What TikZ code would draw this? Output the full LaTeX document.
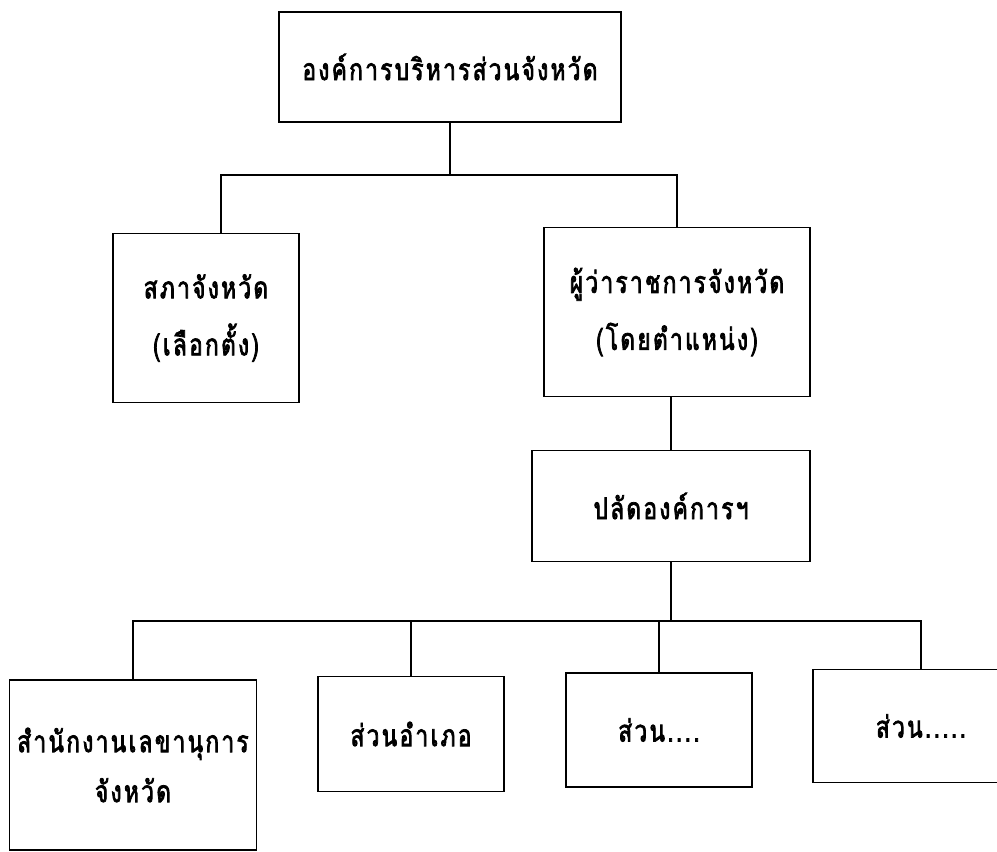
\documentclass[tikz,border=0pt]{standalone}
\usepackage{fontspec}
\newfontfamily\thaifont[Script=Thai,LetterSpace=8,FakeStretch=0.75,FakeBold=2.5]{Loma}
\usepackage{tikz}

\begin{document}
\begin{tikzpicture}[x=1pt,y=-1pt,line width=1.6pt,
	unit/.style={draw,rectangle,inner sep=0pt,align=center,
		font=\thaifont\fontsize{30}{57}\selectfont}]
				\useasboundingbox (0,0) rectangle (997,852);
				\node[unit,minimum width=342,minimum height=110] (pao) at (450,67) {องค์การบริหารส่วนจังหวัด};
				\node[unit,minimum width=186,minimum height=169] (council) at (206,318) {สภาจังหวัด\\(เลือกตั้ง)};
				\node[unit,minimum width=266,minimum height=169] (governor) at (677,312) {ผู้ว่าราชการจังหวัด\\(โดยตำแหน่ง)};
				\node[unit,minimum width=278,minimum height=111] (deputy) at (671,506) {ปลัดองค์การฯ};
				\node[unit,minimum width=247,minimum height=170] (office) at (133,765) {สำนักงานเลขานุการ\\[-7pt]จังหวัด};
				\node[unit,minimum width=186,minimum height=115] (district) at (411,734) {ส่วนอำเภอ};
				\node[unit,minimum width=186,minimum height=114] (divone) at (659,730) {ส่วน....};
				\node[unit,minimum width=216,minimum height=113] (divtwo) at (921,726) {ส่วน.....};
				\coordinate (upbus) at (pao.south |- 0,175);
				\coordinate (lowbus) at (deputy.south |- 0,621);
				\draw (pao.south) -- (upbus);
				\draw (upbus) -- (221,175) -- (221,0 |- council.north);
				\draw (upbus) -| (governor.north);
				\draw (deputy.north |- governor.south) -- (deputy.north);
				\draw (deputy.south) -- (lowbus);
				\draw (lowbus) -| (office.north);
				\draw (lowbus) -| (district.north);
				\draw (lowbus) -| (divone.north);
				\draw (lowbus) -| (divtwo.north);
			\end{tikzpicture}
\end{document}
